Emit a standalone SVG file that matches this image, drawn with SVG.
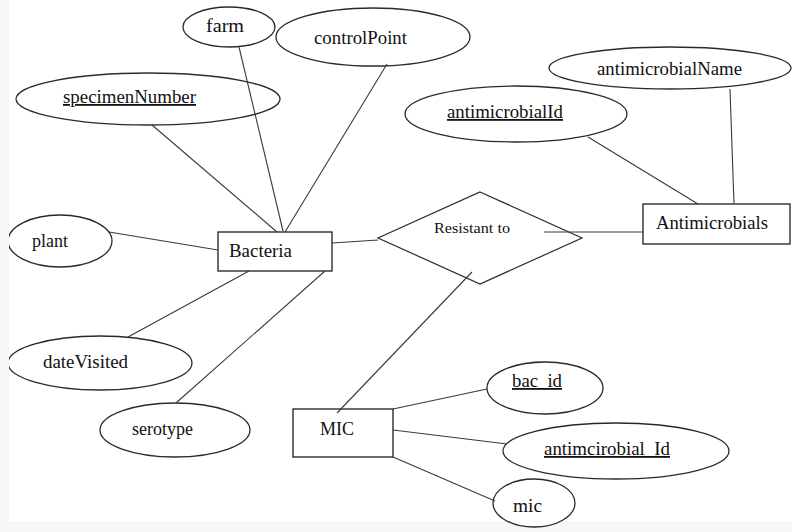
<svg xmlns="http://www.w3.org/2000/svg" width="792" height="532" viewBox="0 0 792 532">
  <defs>
    <style>
      .attr { fill: #ffffff; stroke: #2a2a2a; stroke-width: 1.3; }
      .ent { fill: #ffffff; stroke: #1e1e1e; stroke-width: 1.3; }
      .rel { fill: #ffffff; stroke: #2a2a2a; stroke-width: 1.2; }
      .conn line { stroke: #3a3a3a; stroke-width: 1.1; }
      text { font-family: "Liberation Serif", "Times New Roman", serif; font-size: 18px; fill: #111111; }
      .key { text-decoration: underline; }
      .small { font-size: 15px; }
    </style>
    <clipPath id="page">
      <rect x="9" y="0" width="783" height="532"/>
    </clipPath>
  </defs>

  <!-- page -->
  <rect x="0" y="0" width="792" height="532" fill="#f7f7f7"/>
  <rect x="9" y="0" width="783" height="521" fill="#ffffff"/>

  <g clip-path="url(#page)">
    <!-- Bacteria and its attributes -->
    <g id="farm">
      <ellipse class="attr" cx="229" cy="27" rx="46" ry="20"/>
      <text x="206" y="32" textLength="38" lengthAdjust="spacingAndGlyphs">farm</text>
    </g>
    <g id="controlPoint">
      <ellipse class="attr" cx="373" cy="37" rx="97" ry="29"/>
      <text x="314" y="44" textLength="93" lengthAdjust="spacingAndGlyphs">controlPoint</text>
    </g>
    <g id="specimenNumber">
      <ellipse class="attr" cx="148" cy="99" rx="132" ry="26"/>
      <text class="key" x="63" y="103" textLength="133" lengthAdjust="spacingAndGlyphs">specimenNumber</text>
    </g>
    <g id="plant">
      <ellipse class="attr" cx="60" cy="241" rx="52" ry="26"/>
      <text x="32" y="247" textLength="36" lengthAdjust="spacingAndGlyphs">plant</text>
    </g>
    <g id="dateVisited">
      <ellipse class="attr" cx="100" cy="363" rx="92" ry="27"/>
      <text x="43" y="368" textLength="85" lengthAdjust="spacingAndGlyphs">dateVisited</text>
    </g>
    <g id="serotype">
      <ellipse class="attr" cx="175" cy="430" rx="75" ry="27"/>
      <text x="132" y="435" textLength="61" lengthAdjust="spacingAndGlyphs">serotype</text>
    </g>
    <g id="Bacteria">
      <rect class="ent" x="218" y="232" width="114" height="39"/>
      <text x="229" y="257" textLength="63" lengthAdjust="spacingAndGlyphs">Bacteria</text>
    </g>

    <!-- relationship -->
    <g id="ResistantTo">
      <polygon class="rel" points="480,192 582,238 480,284 378,238"/>
      <text class="small" x="434" y="233" textLength="76" lengthAdjust="spacingAndGlyphs">Resistant to</text>
    </g>

    <!-- Antimicrobials and its attributes -->
    <g id="antimicrobialId">
      <ellipse class="attr" cx="516" cy="114" rx="111" ry="28"/>
      <text class="key" x="447" y="118" textLength="116" lengthAdjust="spacingAndGlyphs">antimicrobialId</text>
    </g>
    <g id="antimicrobialName">
      <ellipse class="attr" cx="670" cy="68" rx="121" ry="21"/>
      <text x="597" y="75" textLength="145" lengthAdjust="spacingAndGlyphs">antimicrobialName</text>
    </g>
    <g id="Antimicrobials">
      <rect class="ent" x="643" y="204" width="147" height="40"/>
      <text x="656" y="229" textLength="112" lengthAdjust="spacingAndGlyphs">Antimicrobials</text>
    </g>

    <!-- MIC and its attributes -->
    <g id="MIC">
      <rect class="ent" x="293" y="409" width="100" height="48"/>
      <text x="320" y="435" textLength="34" lengthAdjust="spacingAndGlyphs">MIC</text>
    </g>
    <g id="bac_id">
      <ellipse class="attr" cx="545" cy="388" rx="58" ry="26"/>
      <text class="key" x="512" y="387" textLength="50" lengthAdjust="spacingAndGlyphs">bac_id</text>
    </g>
    <g id="antimcirobial_Id">
      <ellipse class="attr" cx="616" cy="451" rx="113" ry="28"/>
      <text class="key" x="544" y="455" textLength="126" lengthAdjust="spacingAndGlyphs">antimcirobial_Id</text>
    </g>
    <g id="mic">
      <ellipse class="attr" cx="534" cy="503" rx="41" ry="24"/>
      <text x="513" y="512" textLength="29" lengthAdjust="spacingAndGlyphs">mic</text>
    </g>

    <!-- connectors, drawn over the shapes -->
    <g id="connectors" class="conn">
      <line x1="239" y1="47" x2="283" y2="231"/>
      <line x1="387" y1="64" x2="285" y2="232"/>
      <line x1="152" y1="125" x2="277" y2="232"/>
      <line x1="109" y1="232" x2="218" y2="250"/>
      <line x1="128" y1="337" x2="249" y2="271"/>
      <line x1="176" y1="403" x2="325" y2="271"/>
      <line x1="332" y1="243" x2="378" y2="240"/>
      <line x1="544" y1="232" x2="643" y2="232"/>
      <line x1="588" y1="137" x2="698" y2="204"/>
      <line x1="730" y1="89" x2="734" y2="204"/>
      <line x1="472" y1="272" x2="337" y2="413"/>
      <line x1="393" y1="409" x2="487" y2="389"/>
      <line x1="393" y1="430" x2="507" y2="444"/>
      <line x1="393" y1="457" x2="495" y2="501"/>
    </g>
  </g>
</svg>
